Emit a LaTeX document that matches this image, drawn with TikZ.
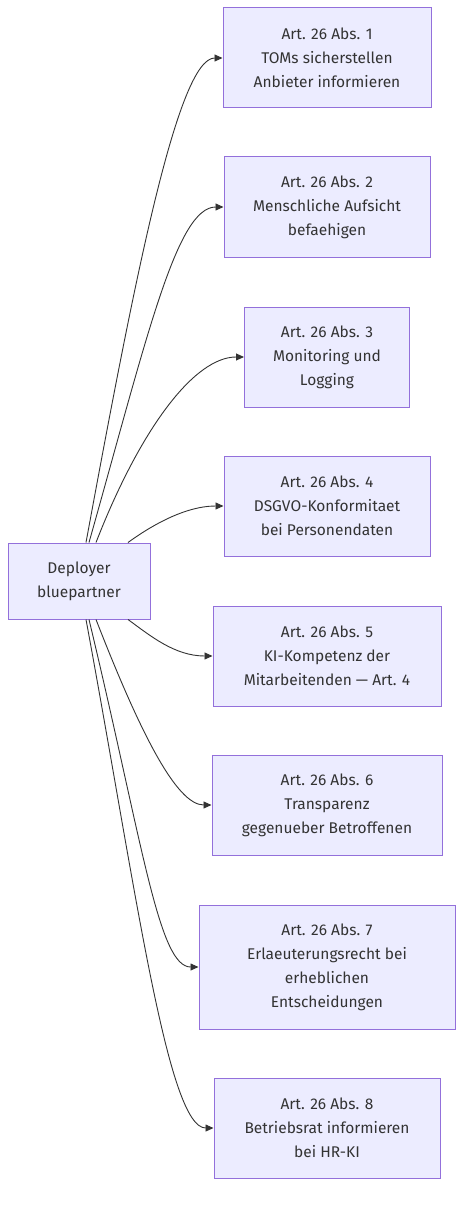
\documentclass[tikz,border=0pt]{standalone}
\usepackage{fontspec}
\setmainfont{Fira Sans}
\usetikzlibrary{arrows.meta}
\definecolor{boxfill}{HTML}{ECECFF}
\definecolor{boxline}{HTML}{9370DB}
\definecolor{ink}{HTML}{333333}

\begin{document}
\begin{tikzpicture}[x=1pt,y=-1pt,
    box/.style={draw=boxline,fill=boxfill,line width=1pt,align=center,text=ink,
                inner sep=0pt,minimum height=100pt,
                font=\fontsize{15.5}{24}\selectfont},
    edge/.style={draw=ink,line width=0.9pt,-{Triangle[length=8pt,width=7pt]}}]
                    \useasboundingbox (0,0) rectangle (471,1206);

                    % Deployer
                    \node[box,minimum width=142pt,minimum height=76pt] (dep) at (79,581) {Deployer\\bluepartner};

                    % Articles
                    \node[box,minimum width=208pt] (a1) at (327,58) {Art. 26 Abs. 1\\TOMs sicherstellen\\Anbieter informieren};
                    \node[box,minimum width=206pt] (a2) at (327,207) {Art. 26 Abs. 2\\Menschliche Aufsicht\\befaehigen};
                    \node[box,minimum width=165pt] (a3) at (327,357) {Art. 26 Abs. 3\\Monitoring und\\Logging};
                    \node[box,minimum width=206pt] (a4) at (327,506) {Art. 26 Abs. 4\\DSGVO-Konformitaet\\bei Personendaten};
                    \node[box,minimum width=228pt] (a5) at (327,656) {Art. 26 Abs. 5\\KI-Kompetenz der\\Mitarbeitenden --- Art. 4};
                    \node[box,minimum width=230pt] (a6) at (327,805) {Art. 26 Abs. 6\\Transparenz\\gegenueber Betroffenen};
                    \node[box,minimum width=256pt,minimum height=124pt] (a7) at (327,967) {Art. 26 Abs. 7\\Erlaeuterungsrecht bei\\erheblichen\\Entscheidungen};
                    \node[box,minimum width=226pt] (a8) at (327,1128) {Art. 26 Abs. 8\\Betriebsrat informieren\\bei HR-KI};

                    % Arrows upwards
                    \draw[edge] ([xshift=7pt]dep.north) .. controls +(48,-260) and +(-45,0) .. (a1.west);
                    \draw[edge] ([xshift=10pt]dep.north) .. controls +(58,-205) and +(-47,0) .. (a2.west);
                    \draw[edge] ([xshift=17pt]dep.north) .. controls +(44,-113) and +(-50,0) .. (a3.west);
                    \draw[edge] ([xshift=49pt]dep.north) .. controls +(22,-16) and +(-39,0) .. (a4.west);

                    % Arrows downwards
                    \draw[edge] ([xshift=49pt]dep.south) .. controls +(22,16) and +(-38,0) .. (a5.west);
                    \draw[edge] ([xshift=17pt]dep.south) .. controls +(44,113) and +(-35,0) .. (a6.west);
                    \draw[edge] ([xshift=10pt]dep.south) .. controls +(54,225) and +(-40,0) .. (a7.west);
                    \draw[edge] ([xshift=7pt]dep.south) .. controls +(50,270) and +(-46,0) .. (a8.west);
                \end{tikzpicture}
\end{document}
